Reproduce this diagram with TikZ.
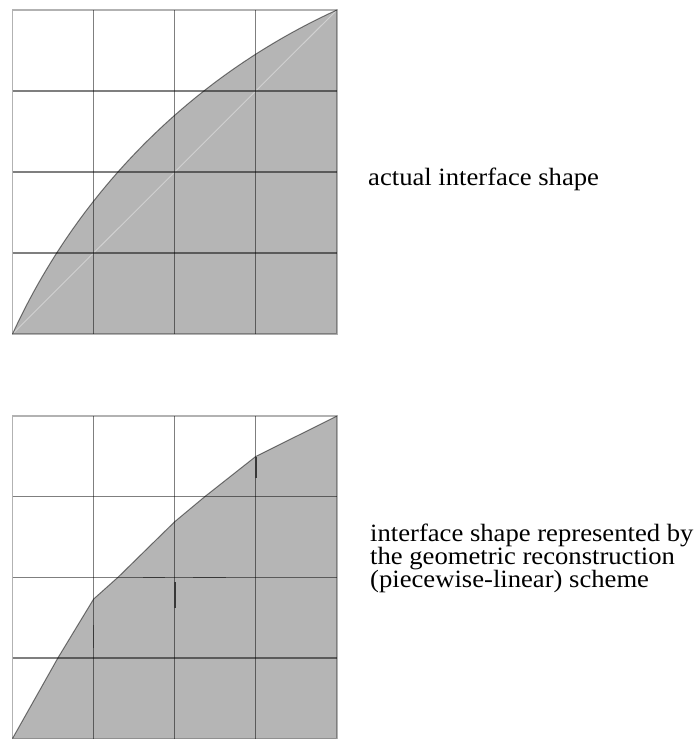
\documentclass[tikz,border=0pt]{standalone}
\usepackage{fontspec}
\setmainfont{Liberation Serif}[FakeStretch=1.07]
\begin{document}
\begin{tikzpicture}[x=1pt,y=-1pt,
  gridline/.style={black, opacity=0.5, line width=1.2pt},
  border/.style={black, opacity=0.3, line width=1.4pt},
  fillgray/.style={fill=black!29},
  iface/.style={black, opacity=0.5, line width=1pt, line join=round},
  plic/.style={black!78, line width=1.6pt},
  diag/.style={white!82!black, line width=0.9pt},
  lbl/.style={font=\fontsize{24.9}{23}\selectfont, inner sep=0pt, anchor=base west}]
\useasboundingbox (0,0) rectangle (698,739);
% top: actual interface
\begin{scope}[shift={(12.5pt,-334pt)}, x=81.1pt, y=81pt]
  \fill[fillgray] plot[domain=155.46:114.54, samples=80] ({7.36+8.091*cos(\x)},{-3.36+8.091*sin(\x)}) -- (4,0) -- cycle;
  \draw[diag] (0,0) -- (4,4);
  \foreach \i in {1,2,3} {
    \draw[gridline] (\i,0) -- (\i,4);
    \draw[gridline] (0,\i) -- (4,\i);
  }
  \draw[border] (0,0) rectangle (4,4);
  \draw[iface] plot[domain=155.46:114.54, samples=80] ({7.36+8.091*cos(\x)},{-3.36+8.091*sin(\x)});
\end{scope}
% bottom: PLIC reconstruction
\begin{scope}[shift={(12.5pt,-738.5pt)}, x=81.1pt, y=80.6pt]
  \fill[fillgray] (0,0) -- (0.56,1) -- (1,1.73) -- (1.30,2) -- (2,2.69) -- (2.37,3) -- (3,3.5) -- (4,4) -- (4,0) -- cycle;
  \foreach \i in {1,2,3} {
    \draw[gridline] (\i,0) -- (\i,4);
    \draw[gridline] (0,\i) -- (4,\i);
  }
  \draw[border] (0,0) rectangle (4,4);
  \draw[iface] (0,0) -- (0.56,1) -- (1,1.73) -- (1.30,2) -- (2,2.69) -- (2.37,3) -- (3,3.5) -- (4,4);
  \draw[plic] (1,1.12) -- (1,1.41);
  \draw[plic] (1.61,2) -- (1.88,2);
  \draw[plic] (2.23,2) -- (2.63,2);
  \draw[plic] (2,1.62) -- (2,1.94);
  \draw[plic] (3,3.23) -- (3,3.49);
\end{scope}
\node[lbl] (t1) at (368,185) {actual interface shape};
\node[lbl] (l1) at (370,541) {interface shape represented by};
\node[lbl] (l2) at (370,564) {the geometric reconstruction};
\node[lbl] (l3) at (370,587) {(piecewise-linear) scheme};
\end{tikzpicture}
\end{document}
